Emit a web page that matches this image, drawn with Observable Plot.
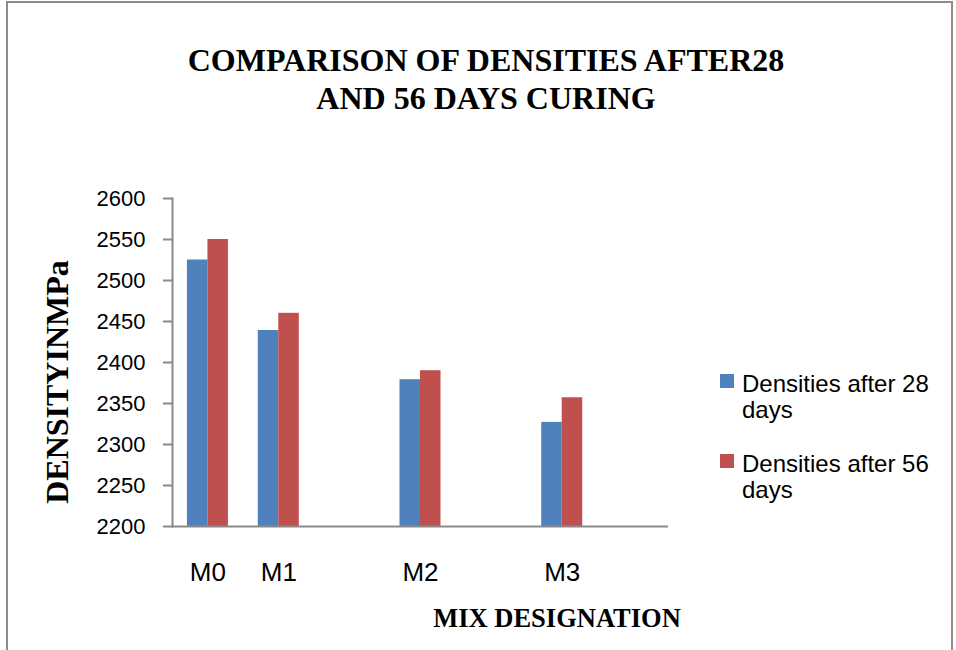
<!DOCTYPE html>
<html>
<head>
<meta charset="utf-8">
<script src="https://cdn.jsdelivr.net/npm/d3@7"></script>
<script src="https://cdn.jsdelivr.net/npm/@observablehq/plot@0.6"></script>
<style>
  html, body { margin: 0; padding: 0; background: #fff; }
  #page { position: relative; width: 956px; height: 650px; overflow: hidden; background: #fff; }
  #frame { position: absolute; left: 6px; top: 1px; width: 947px; height: 700px; border: 2px solid #8c8c8c; box-sizing: border-box; }
  #chart { position: absolute; left: 0; top: 0; }
  #title { position: absolute; left: 0; top: 41px; width: 972px; text-align: center;
    font-family: "Liberation Serif", serif; font-weight: bold; font-size: 32px; line-height: 38px; color: #000; }
  #ylabel { position: absolute; left: 57px; top: 382px; transform: translate(-50%, -50%) rotate(-90deg);
    font-family: "Liberation Serif", serif; font-weight: bold; font-size: 32px; white-space: nowrap; color: #000; }
  #xlabel { position: absolute; left: 557px; top: 603px; transform: translateX(-50%);
    font-family: "Liberation Serif", serif; font-weight: bold; font-size: 26.5px; line-height: 30px; white-space: nowrap; color: #000; }
  .leg { position: absolute; left: 720px; font-family: "Liberation Sans", sans-serif; font-size: 24px; line-height: 26px; color: #000; }
  .leg .sw { position: absolute; left: 0; width: 14px; height: 14px; }
  .leg .tx { position: absolute; left: 22px; top: 0; width: 200px; }
</style>
</head>
<body>
<div id="page">
  <div id="frame"></div>
  <div id="chart"></div>
  <div id="title"></div>
  <div id="ylabel"></div>
  <div id="xlabel"></div>
</div>
<script>
// ---- data ----
const titleLines = ["COMPARISON OF DENSITIES AFTER28", "AND 56 DAYS CURING"];
const yTitle = "DENSITYINMPa";
const xTitle = "MIX DESIGNATION";
const slots = ["M0", "M1", "gap1", "M2", "gap2", "M3", "gap3"]; // category slots along x (gaps are empty)
const mixes = ["M0", "M1", "M2", "M3"];
const series = ["Densities after 28 days", "Densities after 56 days"];
const days28 = [2525, 2439, 2379, 2327];
const days56 = [2550, 2460, 2390, 2357];
const yDomain = [2200, 2600];
const yTicks = [2200, 2250, 2300, 2350, 2400, 2450, 2500, 2550, 2600];
const colors = ["#4F81BD", "#C0504D"];

// ---- layout (style) ----
const W = 956, H = 650, mL = 172, mR = 288, mT = 198, mB = 124;
const gray = "#8a8a8a";
const band = (W - mL - mR) / slots.length;     // width of one category slot
const outer = 0.728;                            // outer padding of a bar group, in bar widths
const barW = band / (2 + 2 * outer);
const edge = outer * barW;                      // gap between slot edge and group
const insets = [
  {insetLeft: edge, insetRight: band - edge - barW},
  {insetLeft: edge + barW, insetRight: edge}
];

const chart = Plot.plot({
  width: W,
  height: H,
  marginLeft: mL,
  marginRight: mR,
  marginTop: mT,
  marginBottom: mB,
  style: {fontFamily: "'Liberation Sans', Arial, sans-serif", fontSize: "22px", color: "#000", background: "transparent"},
  x: {domain: slots, padding: 0, round: false, axis: null},
  y: {domain: yDomain, axis: null},
  marks: [
    ...series.map((s, k) => Plot.barY(mixes, {
      x: d => d,
      y1: yDomain[0],
      y2: (d, i) => (k === 0 ? days28 : days56)[i],
      fill: colors[k],
      ...insets[k]
    })),
    Plot.frame({anchor: "left", stroke: gray, strokeWidth: 2}),
    Plot.ruleY([yDomain[0]], {stroke: gray, strokeWidth: 2}),
    Plot.axisY({ticks: yTicks, tickFormat: d => String(d), tickSize: 9, tickPadding: 18,
      stroke: gray, strokeWidth: 2, label: null, fontSize: 22}),
    Plot.axisX({anchor: "bottom", tickSize: 0, tickPadding: 36, label: null, fontSize: 26,
      tickFormat: d => (mixes.includes(d) ? d : "")})
  ]
});
document.getElementById("chart").appendChild(chart);

document.getElementById("title").innerHTML = titleLines.join("<br>");
document.getElementById("ylabel").textContent = yTitle;
document.getElementById("xlabel").textContent = xTitle;

// legend
const page = document.getElementById("page");
const legTops = [371, 451];
series.forEach((s, i) => {
  const d = document.createElement("div");
  d.className = "leg";
  d.style.top = legTops[i] + "px";
  const sw = document.createElement("div");
  sw.className = "sw";
  sw.style.background = colors[i];
  sw.style.top = "3px";
  const tx = document.createElement("div");
  tx.className = "tx";
  tx.textContent = s;
  d.appendChild(sw);
  d.appendChild(tx);
  page.appendChild(d);
});
</script>
</body>
</html>
